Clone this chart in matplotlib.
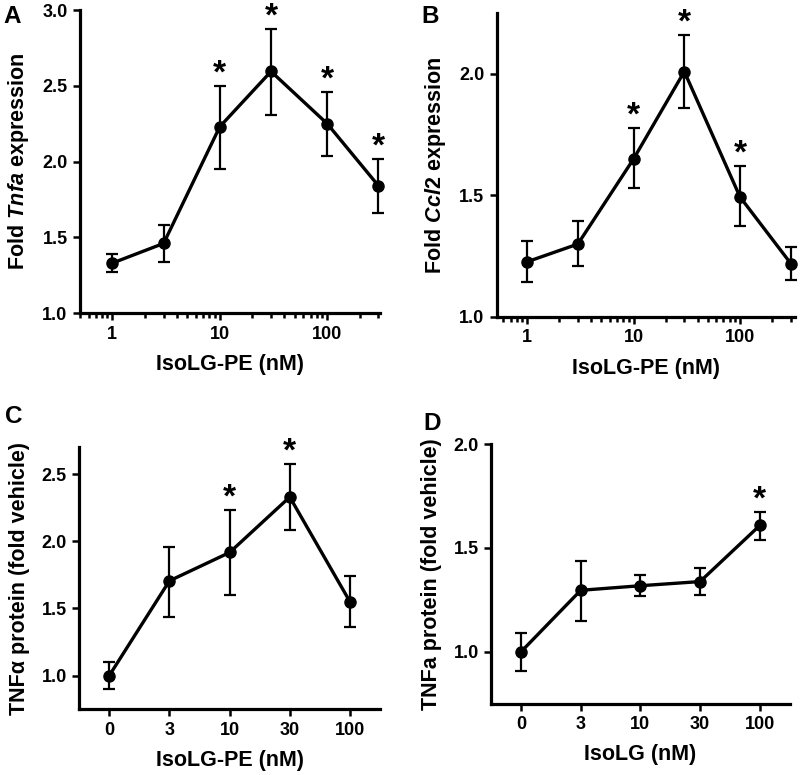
import matplotlib
matplotlib.use("Agg")
import matplotlib.pyplot as plt
import numpy as np

plt.rcParams['font.family'] = ['Liberation Sans', 'DejaVu Sans']
plt.rcParams['font.weight'] = 'bold'
plt.rcParams['mathtext.fontset'] = 'custom'
plt.rcParams['mathtext.rm'] = 'Liberation Sans:bold'
plt.rcParams['mathtext.bf'] = 'Liberation Sans:bold'
plt.rcParams['mathtext.it'] = 'Liberation Sans:bold:italic'

# Panel A: Tnfa expression
a_conc = [1, 3, 10, 30, 100, 300]
a_mean = [1.33, 1.46, 2.23, 2.595, 2.25, 1.84]
a_err_hi = [1.39, 1.58, 2.50, 2.875, 2.46, 2.02]
a_err_lo = [1.27, 1.34, 1.95, 2.31, 2.04, 1.66]
a_sig = [False, False, True, True, True, True]

# Panel B: Ccl2 expression
b_conc = [1, 3, 10, 30, 100, 300]
b_mean = [1.227, 1.30, 1.65, 2.01, 1.494, 1.22]
b_err_hi = [1.313, 1.396, 1.776, 2.16, 1.621, 1.288]
b_err_lo = [1.144, 1.209, 1.529, 1.861, 1.374, 1.154]
b_sig = [False, False, True, True, True, False]

# Panel C: TNFalpha protein, IsoLG-PE
c_labels = ['0', '3', '10', '30', '100']
c_mean = [1.0, 1.705, 1.916, 2.329, 1.55]
c_err_hi = [1.10, 1.958, 2.235, 2.572, 1.743]
c_err_lo = [0.90, 1.436, 1.599, 2.087, 1.364]
c_sig = [False, False, True, True, False]

# Panel D: TNFa protein, IsoLG
d_labels = ['0', '3', '10', '30', '100']
d_mean = [1.0, 1.296, 1.318, 1.338, 1.608]
d_err_hi = [1.091, 1.438, 1.368, 1.403, 1.675]
d_err_lo = [0.908, 1.148, 1.268, 1.274, 1.538]
d_sig = [False, False, False, False, True]

fig = plt.figure(figsize=(8, 7.75), dpi=100)
axA = fig.add_axes([0.100, 0.596, 0.375, 0.391])
axB = fig.add_axes([0.621, 0.591, 0.373, 0.392])
axC = fig.add_axes([0.099, 0.085, 0.376, 0.338])
axD = fig.add_axes([0.614, 0.092, 0.373, 0.335])

TICK_FS = 13
LABEL_FS = 15.5


def style(ax):
    for s in ['top', 'right']:
        ax.spines[s].set_visible(False)
    for s in ['left', 'bottom']:
        ax.spines[s].set_linewidth(2.3)
    ax.tick_params(which='major', direction='out', length=5, width=1.8,
                   labelsize=TICK_FS, pad=4)
    ax.tick_params(which='minor', direction='out', length=3.5, width=1.8)
    for lab in ax.get_xticklabels() + ax.get_yticklabels():
        lab.set_fontweight('bold')


def draw(ax, x, mean, hi, lo, sig):
    mean = np.array(mean)
    yerr = [mean - np.array(lo), np.array(hi) - mean]
    ax.errorbar(x, mean, yerr=yerr, color='black', lw=2.4, marker='o',
                markersize=8, elinewidth=1.6, capsize=4.5, capthick=1.6,
                clip_on=False, zorder=3)
    for xi, h, s in zip(x, hi, sig):
        if s:
            ax.annotate('*', (xi, h), xytext=(0, 2.5), textcoords='offset points',
                        ha='center', va='baseline', fontsize=24, fontweight='bold',
                        annotation_clip=False)


# A
draw(axA, a_conc, a_mean, a_err_hi, a_err_lo, a_sig)
axA.set_xscale('log')
axA.set_xlim(0.5, 310)
axA.set_ylim(1.0, 3.0)
axA.set_xticks([1, 10, 100])
axA.set_xticklabels(['1', '10', '100'])
axA.set_yticks([1.0, 1.5, 2.0, 2.5, 3.0])
axA.set_yticklabels(['1.0', '1.5', '2.0', '2.5', '3.0'])
axA.set_xlabel('IsoLG-PE (nM)', fontsize=LABEL_FS, fontweight='bold', labelpad=8)
axA.set_ylabel(r'$\mathrm{Fold}\ \mathit{Tnfa}\ \mathrm{expression}$', fontsize=LABEL_FS, labelpad=8)
style(axA)

# B
draw(axB, b_conc, b_mean, b_err_hi, b_err_lo, b_sig)
axB.set_xscale('log')
axB.set_xlim(0.52, 330)
axB.set_ylim(1.0, 2.25)
axB.set_xticks([1, 10, 100])
axB.set_xticklabels(['1', '10', '100'])
axB.set_yticks([1.0, 1.5, 2.0])
axB.set_yticklabels(['1.0', '1.5', '2.0'])
axB.set_xlabel('IsoLG-PE (nM)', fontsize=LABEL_FS, fontweight='bold', labelpad=8)
axB.set_ylabel(r'$\mathrm{Fold}\ \mathit{Ccl2}\ \mathrm{expression}$', fontsize=LABEL_FS, labelpad=8)
style(axB)

# C
xc = np.arange(len(c_labels))
draw(axC, xc, c_mean, c_err_hi, c_err_lo, c_sig)
axC.set_xlim(-0.5, 4.5)
axC.set_ylim(0.75, 2.7)
axC.set_xticks(xc)
axC.set_xticklabels(c_labels)
axC.set_yticks([1.0, 1.5, 2.0, 2.5])
axC.set_yticklabels(['1.0', '1.5', '2.0', '2.5'])
axC.set_xlabel('IsoLG-PE (nM)', fontsize=LABEL_FS, fontweight='bold', labelpad=8)
axC.set_ylabel('TNFα protein (fold vehicle)', fontsize=LABEL_FS, fontweight='bold', labelpad=8)
style(axC)

# D
xd = np.arange(len(d_labels))
draw(axD, xd, d_mean, d_err_hi, d_err_lo, d_sig)
axD.set_xlim(-0.5, 4.5)
axD.set_ylim(0.75, 2.0)
axD.set_xticks(xd)
axD.set_xticklabels(d_labels)
axD.set_yticks([1.0, 1.5, 2.0])
axD.set_yticklabels(['1.0', '1.5', '2.0'])
axD.set_xlabel('IsoLG (nM)', fontsize=LABEL_FS, fontweight='bold', labelpad=8)
axD.set_ylabel('TNFa protein (fold vehicle)', fontsize=LABEL_FS, fontweight='bold', labelpad=8)
style(axD)

fig.text(0.004, 0.993, 'A', fontsize=17.5, fontweight='bold', va='top', ha='left')
fig.text(0.527, 0.993, 'B', fontsize=17.5, fontweight='bold', va='top', ha='left')
fig.text(0.006, 0.477, 'C', fontsize=17.5, fontweight='bold', va='top', ha='left')
fig.text(0.529, 0.469, 'D', fontsize=17.5, fontweight='bold', va='top', ha='left')

fig.savefig('out.png', dpi=100)
